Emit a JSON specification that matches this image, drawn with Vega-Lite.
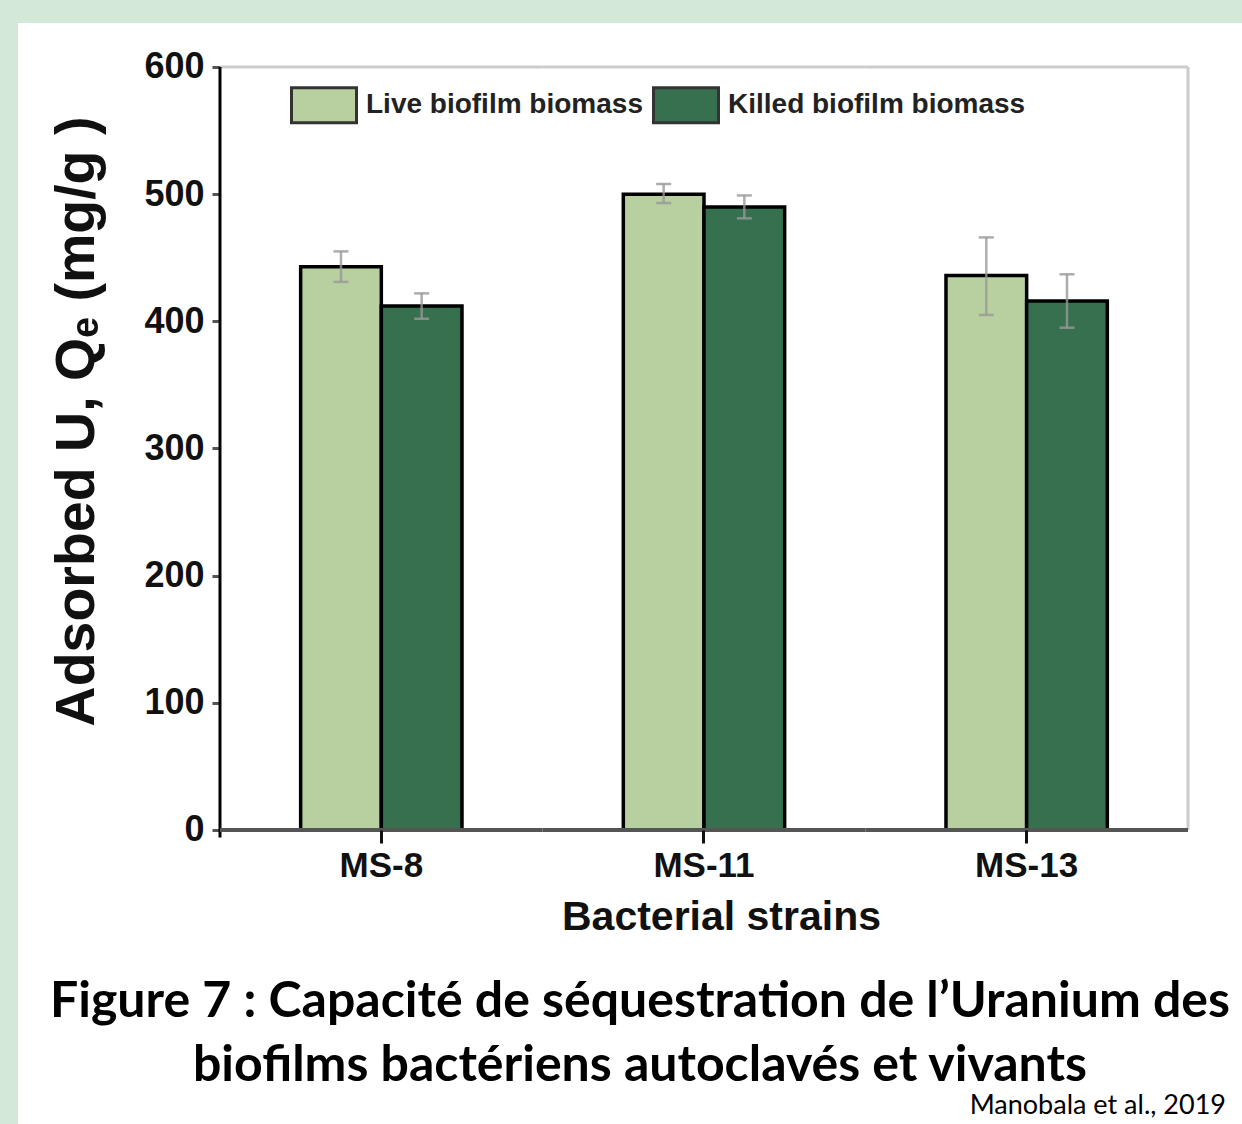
{
  "$schema": "https://vega.github.io/schema/vega-lite/v6.json",
  "width": 1224,
  "height": 1101,
  "autosize": {"type": "none"},
  "padding": {"left": 18, "top": 23, "right": 0, "bottom": 0},
  "background": "#d4e8d9",
  "view": {"fill": "white", "stroke": null},
  "title": {
    "text": ["Figure 7 : Capacité de séquestration de l’Uranium des", "biofilms bactériens autoclavés et vivants"],
    "orient": "bottom",
    "frame": "group",
    "anchor": "middle",
    "offset": -147,
    "dx": 10,
    "font": "Lato",
    "fontSize": 50,
    "fontWeight": "bold",
    "color": "black",
    "lineHeight": 64
  },
  "datasets": {
    "bars": [
      {"strain": "MS-8", "series": "Live biofilm biomass", "value": 443, "lo": 431, "hi": 455},
      {"strain": "MS-8", "series": "Killed biofilm biomass", "value": 412, "lo": 402, "hi": 422},
      {"strain": "MS-11", "series": "Live biofilm biomass", "value": 500, "lo": 493, "hi": 508},
      {"strain": "MS-11", "series": "Killed biofilm biomass", "value": 490, "lo": 481, "hi": 499},
      {"strain": "MS-13", "series": "Live biofilm biomass", "value": 436, "lo": 405, "hi": 466},
      {"strain": "MS-13", "series": "Killed biofilm biomass", "value": 416, "lo": 395, "hi": 437}
    ],
    "strains": [{"strain": "MS-8"}, {"strain": "MS-11"}, {"strain": "MS-13"}]
  },
  "layer": [
    {
      "data": {"name": "strains"},
      "mark": {"type": "rect", "fill": null, "stroke": "#cccccc", "strokeWidth": 3},
      "encoding": {
        "x": {"field": "strain", "type": "nominal"},
        "y": {"datum": 600, "type": "quantitative"},
        "y2": {"datum": 600}
      }
    },
    {
      "data": {"values": [{"strain": "MS-13"}]},
      "mark": {"type": "rule", "color": "#cccccc", "strokeWidth": 3},
      "encoding": {
        "x": {"field": "strain", "type": "nominal", "bandPosition": 1},
        "y": {"datum": 0, "type": "quantitative"},
        "y2": {"datum": 600}
      }
    },
    {
      "data": {"name": "bars"},
      "mark": {"type": "bar", "stroke": "black", "strokeWidth": 3.5, "strokeJoin": "miter"},
      "encoding": {
        "x": {
          "field": "strain",
          "type": "nominal",
          "scale": {"domain": ["MS-8", "MS-11", "MS-13"], "paddingInner": 0, "paddingOuter": 0.3967, "align": 0.789},
          "axis": {
            "orient": "bottom",
            "offset": -294,
            "domain": false,
            "grid": false,
            "tickSize": 13,
            "tickWidth": 3,
            "tickColor": "#111111",
            "labelFont": "Liberation Sans",
            "labelFontSize": 35,
            "labelFontWeight": "bold",
            "labelColor": "#111111",
            "labelPadding": 22,
            "labelAngle": 0,
            "labelAlign": "center",
            "title": "Bacterial strains",
            "titleFont": "Liberation Sans",
            "titleFontSize": 41,
            "titleFontWeight": "bold",
            "titleColor": "#111111",
            "titleX": 703,
            "titlePadding": 14
          }
        },
        "xOffset": {
          "field": "series",
          "type": "nominal",
          "scale": {"domain": ["Live biofilm biomass", "Killed biofilm biomass"], "paddingInner": 0, "paddingOuter": 1}
        },
        "y": {
          "field": "value",
          "type": "quantitative",
          "scale": {"domain": [-231.2, 634.6], "nice": false, "zero": false},
          "axis": {
            "orient": "left",
            "offset": -202,
            "values": [0, 100, 200, 300, 400, 500, 600],
            "domain": false,
            "grid": false,
            "tickSize": 8,
            "tickWidth": 3,
            "tickColor": "#555555",
            "labelFont": "Liberation Sans",
            "labelFontSize": 36,
            "labelFontWeight": "bold",
            "labelColor": "#111111",
            "labelPadding": 8,
            "title": "Adsorbed U, Qₑ (mg/g )",
            "titleFont": "Liberation Sans",
            "titleFontSize": 55.5,
            "titleFontWeight": "bold",
            "titleColor": "#111111",
            "titleY": 398,
            "titlePadding": 38
          }
        },
        "color": {
          "field": "series",
          "type": "nominal",
          "scale": {"domain": ["Live biofilm biomass", "Killed biofilm biomass"], "range": ["#b8cfa0", "#36704f"]},
          "legend": {
            "title": null,
            "orient": "none",
            "legendX": 272,
            "legendY": 48,
            "direction": "horizontal",
            "symbolType": "M-1,-0.54H1V0.54H-1Z",
            "symbolSize": 4225,
            "symbolStrokeColor": "#333333",
            "symbolStrokeWidth": 3,
            "symbolOpacity": 1,
            "labelFont": "Liberation Sans",
            "labelFontSize": 28,
            "labelFontWeight": "bold",
            "labelColor": "#222222",
            "labelOffset": 8,
            "labelLimit": 0,
            "columnPadding": 4
          }
        }
      }
    },
    {
      "data": {"name": "bars"},
      "mark": {"type": "rule", "color": "#999999", "strokeWidth": 2.5, "opacity": 0.8},
      "encoding": {
        "x": {"field": "strain", "type": "nominal"},
        "xOffset": {"field": "series", "type": "nominal"},
        "y": {"field": "lo", "type": "quantitative"},
        "y2": {"field": "hi"}
      }
    },
    {
      "data": {"name": "bars"},
      "mark": {"type": "tick", "orient": "horizontal", "size": 15, "thickness": 2.5, "color": "#999999", "opacity": 0.8},
      "encoding": {
        "x": {"field": "strain", "type": "nominal"},
        "xOffset": {"field": "series", "type": "nominal"},
        "y": {"field": "lo", "type": "quantitative"}
      }
    },
    {
      "data": {"name": "bars"},
      "mark": {"type": "tick", "orient": "horizontal", "size": 15, "thickness": 2.5, "color": "#999999", "opacity": 0.8},
      "encoding": {
        "x": {"field": "strain", "type": "nominal"},
        "xOffset": {"field": "series", "type": "nominal"},
        "y": {"field": "hi", "type": "quantitative"}
      }
    },
    {
      "data": {"values": [{"strain": "MS-8"}]},
      "mark": {"type": "rule", "color": "black", "strokeWidth": 3},
      "encoding": {
        "x": {"field": "strain", "type": "nominal", "bandPosition": 0},
        "y": {"datum": -6, "type": "quantitative"},
        "y2": {"datum": 600}
      }
    },
    {
      "data": {"name": "strains"},
      "mark": {"type": "rect", "fill": null, "stroke": "#555555", "strokeWidth": 4},
      "encoding": {
        "x": {"field": "strain", "type": "nominal"},
        "y": {"datum": 0, "type": "quantitative"},
        "y2": {"datum": 0}
      }
    },
    {
      "data": {"values": [{"strain": "MS-13", "label": "Manobala et al., 2019"}]},
      "mark": {"type": "text", "align": "left", "baseline": "middle", "dx": -57, "font": "Lato", "fontSize": 27, "color": "black"},
      "encoding": {
        "x": {"field": "strain", "type": "nominal"},
        "y": {"datum": -217, "type": "quantitative"},
        "text": {"field": "label"}
      }
    }
  ]
}
